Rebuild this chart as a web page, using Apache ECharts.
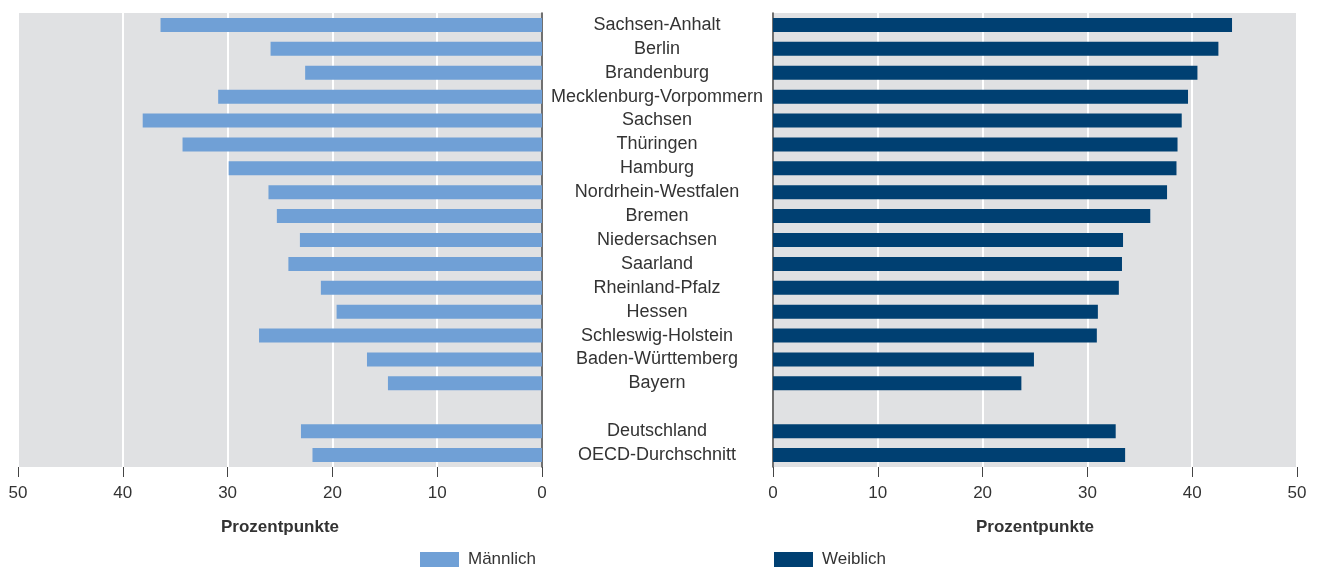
<!DOCTYPE html>
<html>
<head>
<meta charset="utf-8">
<script src="https://cdn.jsdelivr.net/npm/echarts@6/dist/echarts.min.js"></script>
<style>
  html, body { margin: 0; padding: 0; background: #fff; }
  #chart { width: 1322px; height: 567px; }
</style>
</head>
<body>
<div id="chart"></div>
<script>
// Länder + Lücke + Vergleichswerte
const categories = [
  'Sachsen-Anhalt', 'Berlin', 'Brandenburg', 'Mecklenburg-Vorpommern', 'Sachsen',
  'Thüringen', 'Hamburg', 'Nordrhein-Westfalen', 'Bremen', 'Niedersachsen',
  'Saarland', 'Rheinland-Pfalz', 'Hessen', 'Schleswig-Holstein', 'Baden-Württemberg',
  'Bayern', '', 'Deutschland', 'OECD-Durchschnitt'
]
const maleValues = [
  36.4, 25.9, 22.6, 30.9, 38.1, 34.3, 29.9, 26.1, 25.3, 23.1,
  24.2, 21.1, 19.6, 27.0, 16.7, 14.7, null, 23.0, 21.9
]
const femaleValues = [
  43.8, 42.5, 40.5, 39.6, 39.0, 38.6, 38.5, 37.6, 36.0, 33.4,
  33.3, 33.0, 31.0, 30.9, 24.9, 23.7, null, 32.7, 33.6
]
const axisName = 'Prozentpunkte'

const font = '"Liberation Sans", Arial, sans-serif'
const textColor = '#333'

const valueAxis = (gridIndex, inverse) => ({
  type: 'value',
  gridIndex: gridIndex,
  inverse: inverse,
  min: 0,
  max: 50,
  interval: 10,
  name: axisName,
  nameLocation: 'middle',
  nameGap: 52,
  nameTextStyle: { fontFamily: font, fontSize: 17, fontWeight: 'bold', color: textColor },
  axisLine: { show: false },
  axisTick: { show: true, length: 10, lineStyle: { color: '#444', width: 1 } },
  axisLabel: { fontFamily: font, fontSize: 17, color: textColor, margin: 18 },
  splitLine: { show: true, lineStyle: { color: '#fff', width: 2 } }
})

const chart = echarts.init(document.getElementById('chart'))
chart.setOption({
  animation: false,
  textStyle: { fontFamily: font },
  grid: [
    { left: 18, width: 524, top: 13, height: 454, show: true, backgroundColor: '#e0e1e3', borderWidth: 0 },
    { left: 773, width: 524, top: 13, height: 454, show: true, backgroundColor: '#e0e1e3', borderWidth: 0 }
  ],
  legend: [
    {
      data: ['Männlich'],
      left: 415,
      top: 546,
      icon: 'rect',
      itemWidth: 39,
      itemHeight: 15,
      textStyle: { fontFamily: font, fontSize: 17, color: textColor, padding: [0, 0, 0, 4] }
    },
    {
      data: ['Weiblich'],
      left: 769,
      top: 546,
      icon: 'rect',
      itemWidth: 39,
      itemHeight: 15,
      textStyle: { fontFamily: font, fontSize: 17, color: textColor, padding: [0, 0, 0, 4] }
    }
  ],
  xAxis: [valueAxis(0, true), valueAxis(1, false)],
  yAxis: [
    {
      type: 'category',
      gridIndex: 0,
      data: categories,
      inverse: true,
      position: 'right',
      axisLine: { show: true, onZero: false, lineStyle: { color: '#404040', width: 1.5 } },
      axisTick: { show: false },
      axisLabel: { show: false },
      splitLine: { show: false }
    },
    {
      type: 'category',
      gridIndex: 1,
      data: categories,
      inverse: true,
      position: 'left',
      axisLine: { show: true, onZero: false, lineStyle: { color: '#404040', width: 1.5 } },
      axisTick: { show: false },
      axisLabel: {
        interval: 0,
        align: 'center',
        margin: 116,
        fontFamily: font,
        fontSize: 18,
        color: textColor
      },
      splitLine: { show: false }
    }
  ],
  series: [
    {
      name: 'Männlich',
      type: 'bar',
      xAxisIndex: 0,
      yAxisIndex: 0,
      barWidth: 14,
      data: maleValues,
      itemStyle: { color: '#70a0d6' }
    },
    {
      name: 'Weiblich',
      type: 'bar',
      xAxisIndex: 1,
      yAxisIndex: 1,
      barWidth: 14,
      data: femaleValues,
      itemStyle: { color: '#004072' }
    }
  ]
})
</script>
</body>
</html>
